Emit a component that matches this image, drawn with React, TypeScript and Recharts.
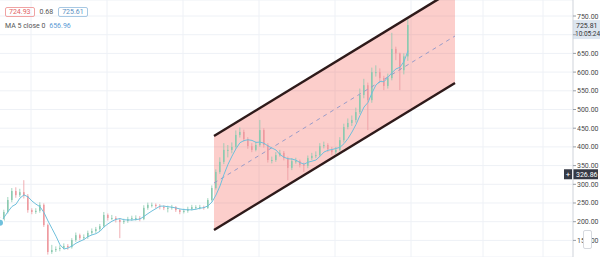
import React from "react";
import {
  ComposedChart,
  Bar,
  Line,
  Area,
  XAxis,
  YAxis,
  CartesianGrid,
  ReferenceLine,
} from "recharts";

// daily closes, oldest first (open of each candle = previous close)
const FIRST_OPEN = 205;
const CLOSES = [
  197, 226, 258, 282, 271, 279, 269, 231, 226, 229, 245, 191, 119, 124, 127, 130,
  135, 132, 151, 164, 156, 159, 170, 175, 180, 188, 218, 210, 210, 205, 199, 202,
  207, 210, 210, 207, 237, 245, 245, 242, 239, 237, 237, 239, 231, 226, 229, 234,
  239, 239, 239, 237, 258, 290, 333, 360, 392, 392, 400, 432, 440, 421, 402, 392,
  405, 445, 405, 365, 365, 378, 384, 370, 344, 362, 362, 352, 349, 370, 376, 378,
  402, 405, 394, 386, 392, 418, 453, 464, 472, 493, 539, 565, 525, 600, 600, 584,
  563, 584, 662, 650, 605, 642, 725.81,
];
const HIGHS = [
  212, 232, 266, 290, 292, 288, 311, 274, 236, 236, 252, 249, 195, 138, 134, 137,
  142, 140, 156, 171, 168, 166, 176, 182, 186, 194, 226, 222, 218, 215, 209, 208,
  213, 216, 217, 215, 244, 251, 251, 249, 247, 244, 243, 245, 242, 234, 235, 240,
  245, 244, 245, 243, 263, 297, 340, 372, 410, 405, 412, 444, 452, 446, 426, 410,
  414, 472, 450, 410, 374, 386, 392, 389, 374, 370, 371, 366, 358, 377, 384, 388,
  410, 414, 410, 400, 400, 426, 462, 476, 484, 505, 556, 582, 572, 612, 618, 610,
  590, 596, 705, 668, 652, 650, 745,
];
const LOWS = [
  190, 194, 222, 252, 264, 266, 262, 224, 220, 221, 224, 186, 112, 114, 119, 121,
  126, 125, 128, 146, 150, 151, 154, 165, 170, 175, 183, 203, 204, 198, 156, 194,
  197, 202, 203, 201, 204, 232, 238, 236, 233, 231, 225, 232, 226, 220, 222, 224,
  230, 233, 233, 232, 234, 254, 286, 328, 354, 372, 383, 395, 425, 414, 395, 386,
  388, 400, 398, 358, 356, 360, 374, 364, 311, 338, 355, 345, 333, 343, 365, 370,
  373, 396, 386, 378, 380, 388, 412, 447, 456, 465, 488, 530, 445, 518, 588, 576,
  552, 556, 578, 632, 552, 594, 630,
];

// parallel channel anchors (x in candle index units)
const CHANNEL_X = [53.5, 113.75];
const CHANNEL_UPPER = [429.1, 822.2];
const CHANNEL_LOWER = [177.8, 570.8];
const CHANNEL_MID = [303.4, 696.5];

const PRICE_TICKS = [150, 200, 250, 300, 350, 400, 450, 500, 550, 600, 650, 700, 750];
const HIDDEN_TICKS = [700];
const LAST_PRICE = 725.81;
const CROSS_PRICE = 326.86;
const MA_LENGTH = 5;

const UP = "#8ccab0";
const DOWN = "#ee9aa0";
const FONT = "Roboto, sans-serif";

type Row = {
  i: number;
  open?: number;
  close?: number;
  high?: number;
  low?: number;
  ma?: number;
  chHi?: number;
  chLo?: number;
  chMid?: number;
};

const candles: Row[] = CLOSES.map((c, i) => {
  const from = Math.max(0, i - MA_LENGTH + 1);
  const win = CLOSES.slice(from, i + 1);
  return {
    i,
    open: i === 0 ? FIRST_OPEN : CLOSES[i - 1],
    close: c,
    high: HIGHS[i],
    low: LOWS[i],
    ma: win.reduce((a, b) => a + b, 0) / win.length,
  };
});

const channel: Row[] = CHANNEL_X.map((x, k) => ({
  i: x,
  chHi: CHANNEL_UPPER[k],
  chLo: CHANNEL_LOWER[k],
  chMid: CHANNEL_MID[k],
}));

const data = [...candles, ...channel].sort((a, b) => a.i - b.i);

function Candle(props: any) {
  const { x, y, width, height, payload } = props;
  if (payload.high == null) return null;
  const { open, close, high, low } = payload;
  const color = close >= open ? UP : DOWN;
  const k = height / (high - low || 1);
  const top = y + (high - Math.max(open, close)) * k;
  const h = Math.max(1, Math.abs(open - close) * k);
  const cx = x + width / 2;
  return (
    <g>
      <line x1={cx} x2={cx} y1={y} y2={y + height} stroke={color} strokeWidth={0.8} />
      <rect x={x} y={top} width={width} height={h} fill={color} />
    </g>
  );
}

function PriceTick(props: any) {
  const { x, y, payload } = props;
  if (HIDDEN_TICKS.includes(payload.value)) return null;
  return (
    <text x={x} y={y} dy={2.5} fontSize={7} fill="#4a4a4a" fontFamily={FONT} textAnchor="start">
      {payload.value.toFixed(2)}
    </text>
  );
}

function LastPriceTag(props: any) {
  const { viewBox } = props;
  const x = viewBox.x + viewBox.width;
  const y = viewBox.y;
  return (
    <g>
      <rect x={x} y={y - 5} width={27} height={19} fill="#dde6f0" />
      <text x={x + 3} y={y + 2.5} fontSize={7} fill="#333" fontFamily={FONT}>
        {LAST_PRICE.toFixed(2)}
      </text>
      <text x={x + 2} y={y + 11} fontSize={6.5} fill="#333" fontFamily={FONT}>
        10:05:24
      </text>
    </g>
  );
}

function CrossTag(props: any) {
  const { viewBox } = props;
  const x = viewBox.x + viewBox.width;
  const y = viewBox.y;
  return (
    <g>
      <rect x={x - 9} y={y - 5} width={8} height={10} fill="#363a45" />
      <text x={x - 5} y={y + 3} fontSize={8} fill="#fff" textAnchor="middle" fontFamily={FONT}>
        +
      </text>
      <rect x={x} y={y - 5} width={25} height={10} fill="#363a45" />
      <text x={x + 3} y={y + 2.5} fontSize={7} fill="#fff" fontFamily={FONT}>
        {CROSS_PRICE.toFixed(2)}
      </text>
    </g>
  );
}

export default function App() {
  return (
    <div
      style={{
        position: "absolute",
        left: 0,
        top: 0,
        width: 600,
        height: 257,
        overflow: "hidden",
        background: "#fff",
        fontFamily: FONT,
      }}
    >
      <ComposedChart width={600} height={257} data={data} margin={{ top: 0, right: 0, bottom: 0, left: 0 }}>
        <CartesianGrid stroke="#eef1f6" verticalPoints={[31, 107, 183, 259, 335, 411, 483, 543]} />
        <XAxis dataKey="i" type="number" domain={[0, 143.25]} allowDataOverflow hide />
        <YAxis
          orientation="right"
          width={27}
          domain={[105.6, 792.8]}
          allowDataOverflow
          ticks={PRICE_TICKS}
          tick={<PriceTick />}
          tickSize={3}
          tickMargin={1}
          axisLine={{ stroke: "#cfd3da" }}
          tickLine={{ stroke: "#9aa0a8" }}
          interval={0}
        />
        <Area
          dataKey={(d: Row) => (d.chHi != null ? [d.chLo, d.chHi] : null)}
          stroke="none"
          fill="#f44336"
          fillOpacity={0.26}
          connectNulls
          isAnimationActive={false}
        />
        <Line
          dataKey="chMid"
          stroke="#9a9cc9"
          strokeWidth={1}
          strokeDasharray="4 4"
          dot={false}
          connectNulls
          isAnimationActive={false}
        />
        <Bar
          dataKey={(d: Row) => (d.high != null ? [d.low, d.high] : null)}
          barSize={1.6}
          shape={<Candle />}
          isAnimationActive={false}
        />
        <Line
          dataKey="ma"
          stroke="#6fc0dc"
          strokeWidth={1}
          dot={false}
          connectNulls
          isAnimationActive={false}
        />
        <Line
          dataKey="chHi"
          stroke="#2e1a1a"
          strokeWidth={2.5}
          dot={false}
          connectNulls
          isAnimationActive={false}
        />
        <Line
          dataKey="chLo"
          stroke="#2e1a1a"
          strokeWidth={2.5}
          dot={false}
          connectNulls
          isAnimationActive={false}
        />
        <ReferenceLine y={LAST_PRICE} stroke="none" label={<LastPriceTag />} />
        <ReferenceLine y={CROSS_PRICE} stroke="none" label={<CrossTag />} />
      </ComposedChart>

      <div
        style={{
          position: "absolute",
          left: 5,
          top: 7,
          display: "flex",
          alignItems: "center",
          gap: 5,
          fontSize: 7,
          lineHeight: "8px",
        }}
      >
        <span style={{ border: "1px solid #f0a3a3", color: "#e06464", padding: "0 3px", borderRadius: 2 }}>724.93</span>
        <span style={{ color: "#555" }}>0.68</span>
        <span style={{ border: "1px solid #a7c8e3", color: "#5a8fbf", padding: "0 3px", borderRadius: 2 }}>725.61</span>
      </div>
      <div style={{ position: "absolute", left: 5, top: 22, fontSize: 7, color: "#555", whiteSpace: "nowrap" }}>
        MA 5 close 0 <span style={{ color: "#5b9bd5", marginLeft: 2 }}>656.96</span>
      </div>
      <div
        style={{
          position: "absolute",
          left: 583,
          top: 230,
          width: 7,
          height: 17,
          background: "#fff",
          border: "1px solid #d6d9de",
          borderRadius: 2,
        }}
      />
    </div>
  );
}
